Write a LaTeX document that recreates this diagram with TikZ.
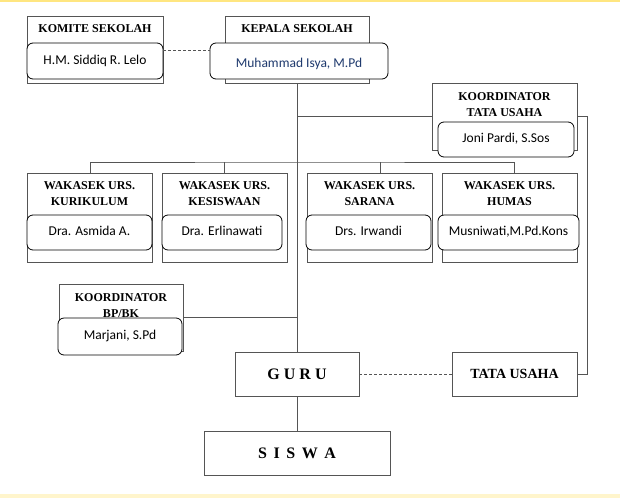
\documentclass[tikz,border=0pt]{standalone}
\usepackage{fontspec}
\setmainfont{Liberation Serif}
\newfontfamily\calib{Carlito}
\definecolor{topy}{HTML}{FFE680}
\definecolor{boty}{HTML}{FFF5CC}
\definecolor{navy}{HTML}{1F3A6E}
\definecolor{edge}{HTML}{555555}
\tikzset{
  outerbox/.style={draw=edge, fill=white, line width=0.8pt, rectangle, inner sep=0pt, outer sep=0pt},
  innerbox/.style={draw=black, fill=white, line width=0.8pt, rounded corners=6pt, inner sep=0pt, outer sep=0pt,
    font=\calib\fontsize{13.5}{16}\selectfont, text height=9pt, text depth=3pt},
  ttl/.style={font=\bfseries\fontsize{12}{16}\selectfont, align=center, inner sep=0pt},
  big/.style={font=\bfseries\fontsize{16}{18}\selectfont},
  mid/.style={font=\bfseries\fontsize{14}{16}\selectfont},
  conn/.style={draw=edge, line width=0.8pt},
  dashconn/.style={conn, dash pattern=on 3pt off 2pt},
}
\begin{document}
\begin{tikzpicture}[x=1pt,y=-1pt]
\useasboundingbox (0,0) rectangle (620,498);
\fill[topy] (0,0) rectangle (620,2);
\fill[boty] (0,494) rectangle (620,498);

% Komite Sekolah
\node[outerbox, minimum width=136pt, minimum height=67pt] (kom) at (95,49.5) {};
\node[ttl] (komt) at (95,29) {KOMITE SEKOLAH};
\node[innerbox, minimum width=136pt, minimum height=36pt] (komi) at (95,61) {H.M. Siddiq R. Lelo};

% Kepala Sekolah
\node[outerbox, minimum width=144pt, minimum height=67pt] (kep) at (297,49.5) {};
\node[ttl] (kept) at (297,29) {KEPALA SEKOLAH};
\node[innerbox, minimum width=178pt, minimum height=36pt, text=navy] (kepi) at (299,61) {\raisebox{-3.5pt}{Muhammad Isya, M.Pd}};

% Koordinator Tata Usaha
\node[outerbox, minimum width=145pt, minimum height=67pt] (ktu) at (504.5,116.5) {};
\node[ttl] (ktut) at (504.5,105) {KOORDINATOR\\TATA USAHA};
\node[innerbox, minimum width=136pt, minimum height=35pt] (ktui) at (506,139.5) {Joni Pardi, S.Sos};

% Wakasek
\node[outerbox, minimum width=125pt, minimum height=89pt] (w1) at (89.5,217.5) {};
\node[ttl] (w1t) at (89.5,194) {WAKASEK URS.\\KURIKULUM};
\node[innerbox, minimum width=125pt, minimum height=35pt] (w1i) at (89.5,232.5) {Dra. Asmida A.};

\node[outerbox, minimum width=125pt, minimum height=89pt] (w2) at (224.5,217.5) {};
\node[ttl] (w2t) at (224.5,194) {WAKASEK URS.\\KESISWAAN};
\node[innerbox, minimum width=120pt, minimum height=35pt] (w2i) at (222,232.5) {Dra. Erlinawati};

\node[outerbox, minimum width=125pt, minimum height=89pt] (w3) at (369.5,217.5) {};
\node[ttl] (w3t) at (369.5,194) {WAKASEK URS.\\SARANA};
\node[innerbox, minimum width=125pt, minimum height=35pt] (w3i) at (368.5,232.5) {Drs. Irwandi};

\node[outerbox, minimum width=135pt, minimum height=89pt] (w4) at (509.5,217.5) {};
\node[ttl] (w4t) at (509.5,194) {WAKASEK URS.\\HUMAS};
\node[innerbox, minimum width=141pt, minimum height=35pt] (w4i) at (508.5,232.5) {Musniwati,M.Pd.Kons};

% Koordinator BP/BK
\node[outerbox, minimum width=124pt, minimum height=67pt] (bp) at (121,317.5) {};
\node[ttl] (bpt) at (121,305.5) {KOORDINATOR\\BP/BK};
\node[innerbox, minimum width=124pt, minimum height=37pt] (bpi) at (120,336.5) {Marjani, S.Pd};

% Guru, Tata Usaha, Siswa
\node[outerbox, big, minimum width=124pt, minimum height=44pt] (guru) at (297,374) {G U R U};
\node[outerbox, mid, minimum width=125pt, minimum height=44pt] (tu) at (514.5,374) {TATA USAHA};
\node[outerbox, big, minimum width=186pt, minimum height=44pt] (siswa) at (297,453) {S\hspace{6.6pt}I\hspace{6.6pt}S\hspace{6.6pt}W\hspace{6.6pt}A};

% Connectors
\coordinate (bus) at (297,162);
\draw[dashconn] ([yshift=-7pt]komi.north east) -- ([yshift=-7pt]kepi.north west);
\draw[conn] (kep.south) -- (guru.north);
\draw[conn] (kep.south |- ktu.west) -- (ktu.west);
\draw[conn] (ktu.east) -- ++(10,0) |- (tu.east);
\draw[conn] ([xshift=0.5pt]w1.north) |- (bus) -| ([xshift=4.5pt]w4.north);
\draw[conn] (w2.north) -- (w2.north |- bus);
\draw[conn] ([xshift=10.5pt]w3.north) -- ([xshift=10.5pt]w3.north |- bus);
\draw[conn] (bp.east) -- (kep.south |- bp.east);
\draw[dashconn] (guru.east) -- (tu.west);
\draw[conn] (guru.south) -- (siswa.north);
\end{tikzpicture}
\end{document}
